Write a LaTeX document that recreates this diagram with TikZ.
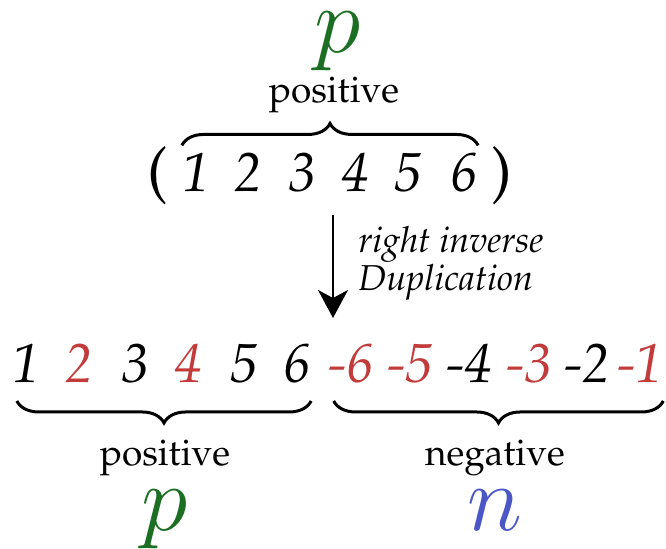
\RequirePackage{fix-cm}
\documentclass[tikz,border=0pt]{standalone}
\usepackage[T1]{fontenc}
\renewcommand{\rmdefault}{ppl}
\usepackage{tikz}
\usetikzlibrary{arrows.meta, decorations.pathreplacing}
\usepackage{xcolor}
\definecolor{PermRed}{HTML}{C23B3B}
\definecolor{PermGreen}{HTML}{1B6E22}
\definecolor{PermBlue}{HTML}{4B57C6}
\definecolor{PermBlack}{HTML}{000000}
\tikzset{
    num/.style={
        font=\fontsize{27.5}{30}\selectfont\itshape,
        text=#1,
        inner sep=0pt,
        anchor=base
    },
    num/.default=PermBlack,
    paren/.style={
        font=\fontsize{31}{33}\selectfont,
        inner sep=0pt,
        anchor=base
    },
    word/.style={
        font=\fontsize{18.5}{20}\selectfont,
        inner sep=0pt,
        anchor=base
    },
    var/.style={
        font=\fontsize{47}{49}\selectfont,
        text=#1,
        inner sep=0pt,
        anchor=base
    },
    var/.default=PermGreen,
    curly/.style={
        decorate,
        decoration={brace, amplitude=11pt, raise=#1},
        line width=1.5pt,
        PermBlack
    },
    bigarrow/.style={
        -{Stealth[length=14pt, width=15pt, inset=4pt]},
        line width=1pt,
        PermBlack
    }
}

\begin{document}
\begin{tikzpicture}[x=0.5pt, y=-0.5pt]
    \useasboundingbox (0,0) rectangle (666,549);

    % top: the permutation
    \node[var] (ptop) at (338,53) {$p$};
    \node[word] (postop) at (334,103) {positive};
    \node[paren] (lp) at (158,192) {(};
    \node[paren] (rp) at (502,192) {)};
    \foreach \d/\x in {1/196, 2/248, 3/302, 4/355, 5/408, 6/464}
        \node[num] (t\d) at (\x,192) {\d};
    \draw[curly=4pt] (t1.north west) -- (t6.north east);

    % duplication step
    \coordinate (atop) at (333,215);
    \coordinate (abot) at (333,318);
    \draw[bigarrow] (atop) -- (abot);
    \node[font=\fontsize{18}{17.5}\selectfont\itshape, align=left, anchor=west, inner sep=0pt]
        (step) at (358,263) {right inverse\\Duplication};

    % bottom: positive and negative halves
    \foreach \d/\x/\c in {1/26/PermBlack, 2/79/PermRed, 3/135/PermBlack,
                          4/188/PermRed, 5/244/PermBlack, 6/297/PermBlack}
        \node[num=\c] (b\d) at (\x,383) {\d};
    \foreach \d/\x/\c in {6/351/PermRed, 5/410/PermRed, 4/469/PermBlack,
                          3/529/PermRed, 2/587/PermBlack, 1/640/PermRed}
        \node[num=\c] (m\d) at (\x,383) {-\d};
    \draw[curly=8.5pt] (b6.south east) -- ([xshift=2.5pt]b1.south west);
    \draw[curly=8.5pt] (m1.south east) -- ([xshift=3pt]m6.south west);

    \node[word] (posbot) at (165,466) {positive};
    \node[word] (negbot) at (495,466) {negative};
    \node[var] (pbot) at (165,531) {$p$};
    \node[var=PermBlue] (nbot) at (495,531) {$n$};
\end{tikzpicture}
\end{document}
